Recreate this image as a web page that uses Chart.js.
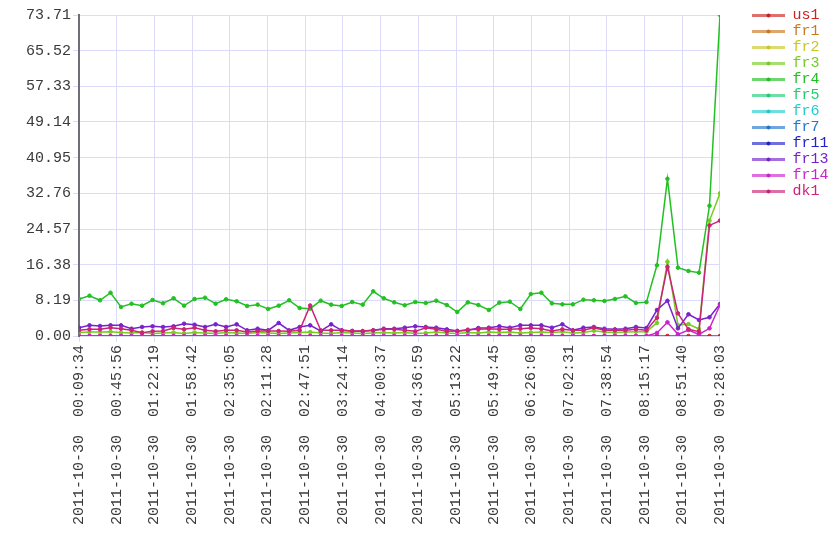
<!DOCTYPE html>
<html>
<head>
<meta charset="utf-8">
<script src="https://cdn.jsdelivr.net/npm/chart.js@4.4.0/dist/chart.umd.min.js"></script>
<style>
  html, body { margin: 0; padding: 0; background: #fff; }
  #wrap { width: 840px; height: 560px; }
</style>
</head>
<body>
<div id="wrap"><canvas id="chart" width="840" height="560"></canvas></div>
<script>
// series names and colours, in legend order
const seriesNames = ["us1", "fr1", "fr2", "fr3", "fr4", "fr5", "fr6", "fr7", "fr11", "fr13", "fr14", "dk1"];
const seriesColors = ["#cc2222", "#cc7722", "#c8c822", "#77cc22", "#22c022", "#22cc77",
                      "#22cccc", "#2277cc", "#2222cc", "#7722cc", "#cc22cc", "#cc2277"];

// x axis tick labels (local time, note the DST step after 02:35:05)
const xTickLabels = [
  "2011-10-30  00:09:34", "2011-10-30  00:45:56", "2011-10-30  01:22:19", "2011-10-30  01:58:42",
  "2011-10-30  02:35:05", "2011-10-30  02:11:28", "2011-10-30  02:47:51", "2011-10-30  03:24:14",
  "2011-10-30  04:00:37", "2011-10-30  04:36:59", "2011-10-30  05:13:22", "2011-10-30  05:49:45",
  "2011-10-30  06:26:08", "2011-10-30  07:02:31", "2011-10-30  07:38:54", "2011-10-30  08:15:17",
  "2011-10-30  08:51:40", "2011-10-30  09:28:03"
];
const yTicks = [0, 8.19, 16.38, 24.57, 32.76, 40.95, 49.14, 57.33, 65.52, 73.71];

// one sample every ~10 minutes, 62 samples
const us1 = [0,0,0,0,0,0,0,0,0,0,0,0,0,0,0,0,0,0,0,0,0,0,0,0,0,0,0,0,0,0,0,
             0,0,0,0,0,0,0,0,0,0,0,0,0,0,0,0,0,0,0,0,0,0,0,0,0,0,0,0,0,0,0];
const fr1 = [];
const fr2 = [];
const fr3 = [0.8,0.9,0.9,1.0,0.8,0.7,0.8,0.6,0.7,0.8,0.6,0.8,0.7,0.6,0.8,0.7,0.6,0.8,0.7,0.6,0.7,0.8,0.9,0.7,0.6,0.8,0.7,0.6,0.7,0.8,0.7,
             0.8,0.6,0.7,0.9,0.7,0.6,0.8,0.7,0.9,0.8,0.9,0.7,0.8,0.9,0.8,1.0,0.7,0.8,1.2,0.9,0.8,0.9,1.0,1.0,3.0,17.06,2.5,2.75,1.6,26.5,32.76];
const fr4 = [8.50,9.25,8.20,9.94,6.66,7.42,6.96,8.27,7.51,8.66,6.96,8.50,8.79,7.42,8.43,7.97,6.89,7.20,6.20,6.96,8.20,6.43,6.28,8.11,7.20,6.89,7.81,7.20,10.26,8.66,7.73,
             7.05,7.81,7.58,8.11,7.12,5.51,7.73,7.12,5.97,7.66,7.88,6.20,9.64,9.94,7.50,7.27,7.27,8.34,8.20,8.04,8.50,9.10,7.58,7.77,16.23,36.10,15.69,14.92,14.54,29.90,73.71];
const fr5 = [];
const fr6 = [];
const fr7 = [];
const fr11 = [];
const fr13 = [1.91,2.45,2.30,2.45,2.45,1.68,2.07,2.22,2.07,2.22,2.83,2.60,2.07,2.68,2.07,2.68,1.30,1.68,1.30,2.98,1.30,2.07,2.45,1.15,2.68,1.30,1.15,1.07,1.30,1.68,1.68,
              1.91,2.22,2.07,1.91,1.53,1.15,1.30,1.84,1.91,2.22,1.91,2.45,2.45,2.45,1.91,2.68,1.30,1.91,2.07,1.68,1.53,1.68,2.07,1.84,5.97,8.10,1.76,4.98,3.67,4.29,7.35];
const fr14 = [0,0,0,0,0,0,0,0,0,0,0,0,0,0,0,0,0,0,0,0,0,0,0,0,0,0,0,0,0,0,0,
              0,0,0,0,0,0,0,0,0,0,0,0,0,0,0,0,0,0,0,0,0,0,0,0,0.7,3.14,0.38,1.38,0.38,1.76,7.12];
const dk1 = [1.30,1.53,1.53,1.91,1.68,1.30,0.77,1.07,1.15,1.84,1.53,1.91,1.30,1.07,1.30,1.30,0.92,1.15,1.15,1.15,1.07,1.30,7.00,1.30,1.30,1.30,1.15,1.15,1.30,1.53,1.53,
             1.30,1.07,1.91,1.53,1.07,1.15,1.45,1.53,1.68,1.53,1.53,1.68,1.84,1.68,1.15,1.53,1.30,1.30,1.91,1.30,1.30,1.30,1.53,1.30,4.20,15.90,5.20,1.54,1.00,25.40,26.50];

const seriesValues = [us1, fr1, fr2, fr3, fr4, fr5, fr6, fr7, fr11, fr13, fr14, dk1];
const lastIndex = fr4.length - 1;

const FONT = "'Liberation Mono', 'DejaVu Sans Mono', monospace";
const gridColor = "#dcdcfa";

// legend marker: short faded line with a dot, left part left blank as spacing
function legendMarker(color) {
  const c = document.createElement("canvas");
  c.width = 66;
  c.height = 7;
  const g = c.getContext("2d");
  g.globalAlpha = 0.65;
  g.strokeStyle = color;
  g.lineWidth = 3;
  g.beginPath();
  g.moveTo(32, 3.5);
  g.lineTo(65, 3.5);
  g.stroke();
  g.globalAlpha = 1;
  g.fillStyle = color;
  g.beginPath();
  g.arc(48.5, 3.5, 2, 0, Math.PI * 2);
  g.fill();
  return c;
}

const datasets = seriesNames.map((name, i) => ({
  label: name,
  data: seriesValues[i].map((v, k) => ({ x: k, y: v })),
  borderColor: seriesColors[i],
  backgroundColor: seriesColors[i],
  borderWidth: 1.5,
  pointRadius: 1.8,
  pointBorderWidth: 1,
  fill: false,
  tension: 0,
  order: seriesNames.length - i  // later series drawn on top
}));

new Chart(document.getElementById("chart"), {
  type: "line",
  data: { datasets },
  options: {
    responsive: false,
    animation: false,
    layout: { padding: { left: 0, right: 1.5, top: 7, bottom: 0 } },
    plugins: {
      tooltip: { enabled: false },
      legend: {
        position: "right",
        align: "start",
        labels: {
          usePointStyle: true,
          pointStyleWidth: 64,
          padding: 1,
          font: { family: FONT, size: 15 },
          generateLabels: (chart) => {
            return chart.data.datasets.map((ds, i) => ({
              text: ds.label,
              datasetIndex: i,
              fontColor: seriesColors[i],
              pointStyle: legendMarker(seriesColors[i]),
              fillStyle: seriesColors[i],
              strokeStyle: seriesColors[i],
              lineWidth: 0,
              hidden: false
            }));
          }
        }
      }
    },
    scales: {
      x: {
        type: "linear",
        min: 0,
        max: lastIndex,
        afterBuildTicks: (axis) => {
          axis.ticks = xTickLabels.map((_, i) => ({ value: i * lastIndex / (xTickLabels.length - 1) }));
        },
        afterFit: (axis) => { axis.height = 224; },
        grid: { color: gridColor, tickLength: 6, lineWidth: 1 },
        border: { color: gridColor, width: 1 },
        ticks: {
          autoSkip: false,
          maxRotation: 90,
          minRotation: 90,
          padding: 3,
          color: "#3a3a3a",
          font: { family: FONT, size: 15 },
          callback: (value, index) => xTickLabels[index]
        }
      },
      y: {
        type: "linear",
        min: 0,
        max: 73.71,
        afterBuildTicks: (axis) => {
          axis.ticks = yTicks.map((v) => ({ value: v }));
        },
        afterFit: (axis) => { axis.width = 79; axis.paddingTop = 15; },
        grid: { color: gridColor, tickLength: 6, lineWidth: 1 },
        border: { color: "#6e6e78", width: 2 },
        ticks: {
          padding: 2,
          color: "#3a3a3a",
          font: { family: FONT, size: 15 },
          callback: (v) => Number(v).toFixed(2)
        }
      }
    }
  }
});
</script>
</body>
</html>
